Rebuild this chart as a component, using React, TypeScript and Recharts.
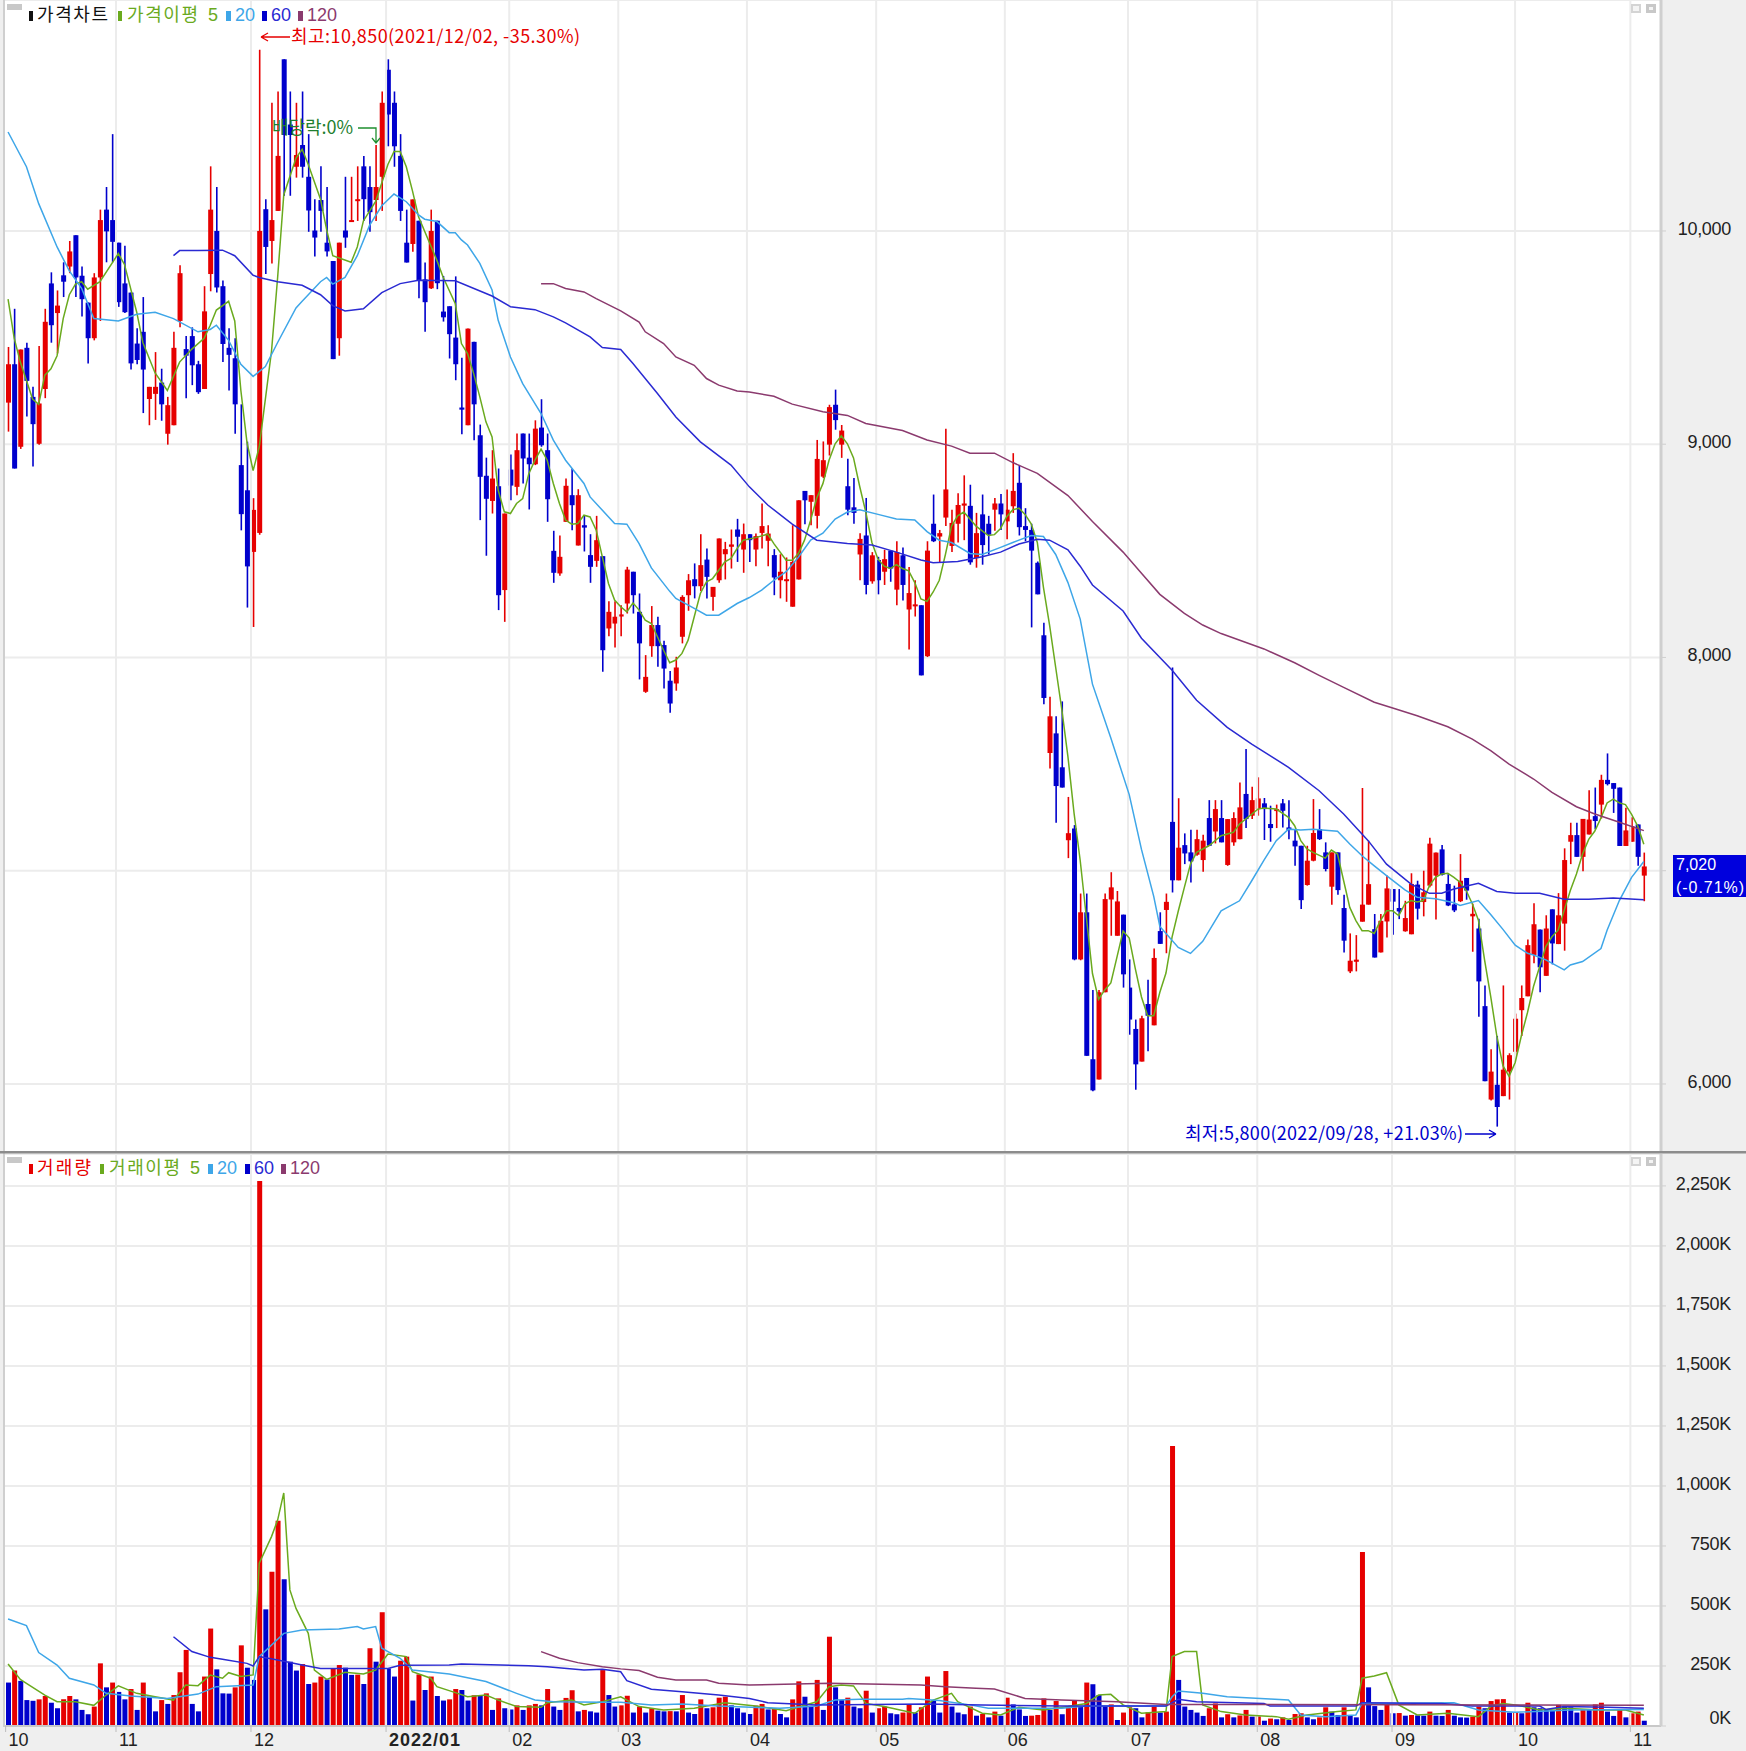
import React from "react";
import { ComposedChart, Bar, Line, XAxis, YAxis, CartesianGrid, ReferenceLine, Cell } from "recharts";

// [open, close, high, low] per trading day; close >= open is a rising (red) candle
const candles: number[][] = [
[9195,9375,9456,9059],[9375,8886,9635,8886],[8988,9444,9444,8978],[9452,9297,9476,9130],[9222,9094,9269,8896],[9002,9191,9460,8998],[9259,9574,9635,9216],[9754,9558,9806,9476],[9615,9650,9721,9426],[9792,9762,9853,9690],
[9833,9904,9953,9802],[9980,9782,9980,9690],[9790,9680,9833,9599],[9664,9497,9664,9379],[9497,9782,9802,9487],[9782,10051,10100,9578],[10100,9998,10206,9853],[10051,9949,10454,9853],[9945,9666,9945,9644],[9754,9619,9931,9615],
[9711,9379,9711,9350],[9472,9395,9544,9375],[9527,9350,9690,9146],[9212,9269,9269,9089],[9236,9269,9432,9114],[9289,9187,9354,9110],[9049,9183,9222,8998],[9089,9452,9527,9089],[9578,9802,9839,9548],[9446,9415,9507,9216],
[9507,9370,9548,9277],[9375,9244,9391,9236],[9259,9623,9741,9259],[9798,10100,10303,9717],[10000,9735,10206,9711],[9741,9470,9768,9385],[9452,9419,9544,9252],[9403,9187,9497,9049],[8902,8672,9187,8596],[8784,8427,9012,8234],
[8495,8692,8747,8143],[8584,10000,10850,8576],[10102,9925,10149,9798],[9953,10051,10601,9847],[10094,10352,10654,10094],[10805,10450,10805,10165],[10499,10450,10654,10165],[10301,10356,10601,10250],[10403,10301,10654,10250],[10254,10096,10454,9996],
[10002,9969,10149,9880],[10145,10094,10303,9996],[9945,9904,10206,9880],[9859,9399,9859,9399],[9497,9945,9945,9415],[10002,9969,10254,9921],[10047,10051,10254,10047],[10145,10149,10303,10047],[10303,10149,10352,10047],[10206,10088,10303,9996],
[10145,10206,10403,10047],[10254,10601,10654,10094],[10756,10546,10805,10397],[10601,10397,10654,10301],[10352,10094,10454,10047],[9945,9852,10100,9852],[9939,10148,10148,9903],[10048,9767,10048,9684],[9773,9666,9852,9527],[9731,10000,10100,9728],
[10048,9755,10048,9727],[9622,9595,9789,9575],[9647,9516,9647,9402],[9500,9375,9787,9300],[9172,9162,9406,9047],[9089,9542,9542,9089],[9480,9187,9480,9019],[9042,8847,9092,8644],[8852,8744,8937,8477],[8734,8839,8972,8675],
[8803,8292,8886,8222],[8316,8675,8675,8167],[8881,8806,8952,8737],[8800,8972,9050,8761],[9050,8933,9050,8816],[8937,8906,9050,8694],[8906,9073,9112,8902],[9078,8995,9211,8988],[8972,8742,9050,8636],[8500,8397,8594,8350],
[8394,8472,8572,8383],[8636,8805,8839,8636],[8761,8714,8886,8597],[8525,8761,8789,8525],[8620,8609,8667,8497],[8480,8425,8578,8350],[8453,8550,8664,8425],[8475,8034,8475,7933],[8136,8214,8264,8100],[8159,8191,8264,8047],
[8192,8202,8245,8100],[8253,8412,8425,8206],[8402,8292,8402,8206],[8214,8066,8300,7897],[7839,7909,8011,7834],[8053,8152,8241,8003],[8152,8053,8191,7956],[8058,7948,8078,7855],[7891,7784,7937,7741],[7878,7953,8003,7844],
[8097,8284,8292,8066],[8292,8362,8391,8219],[8367,8334,8441,8277],[8334,8433,8578,8312],[8459,8378,8511,8277],[8284,8331,8331,8219],[8362,8558,8558,8350],[8484,8508,8542,8366],[8519,8530,8600,8417],[8600,8566,8650,8448],
[8506,8578,8628,8397],[8578,8550,8578,8448],[8506,8569,8581,8428],[8584,8616,8722,8511],[8547,8581,8620,8428],[8480,8375,8508,8292],[8362,8402,8484,8277],[8359,8367,8469,8261],[8238,8448,8620,8238],[8366,8737,8737,8366],
[8781,8737,8781,8625],[8730,8761,8761,8620],[8664,8931,9020,8605],[8848,8925,9013,8841],[8998,9174,9185,8947],[9185,9113,9256,9068],[8998,9064,9090,8936],[8803,8693,8932,8667],[8704,8678,8841,8627],[8483,8556,8583,8362],
[8572,8340,8748,8296],[8357,8479,8494,8346],[8457,8362,8472,8296],[8402,8461,8505,8340],[8501,8417,8501,8355],[8318,8494,8545,8245],[8479,8340,8516,8267],[8225,8302,8424,8037],[8240,8249,8362,8192],[8245,7916,8245,7916],
[8006,8501,8545,8002],[8627,8545,8764,8541],[8567,8583,8598,8446],[8656,8788,9073,8616],[8523,8631,8693,8494],[8627,8715,8770,8539],[8712,8722,8854,8550],[8711,8446,8810,8435],[8466,8583,8678,8421],[8671,8527,8764,8435],
[8627,8576,8664,8483],[8693,8722,8748,8594],[8722,8671,8766,8598],[8638,8693,8788,8554],[8709,8781,8958,8678],[8819,8611,8903,8572],[8616,8598,8700,8545],[8598,8501,8627,8141],[8444,8296,8450,8296],[8104,7810,8163,7781],
[7552,7724,7816,7479],[7644,7397,7724,7225],[7485,7390,7794,7390],[7143,7176,7346,7059],[7198,6584,7214,6580],[6584,6805,6893,6580],[6805,6132,6893,6132],[6116,5970,6441,5966],[6021,6430,6441,6021],[6430,6867,6893,6430],
[6865,6922,6993,6695],[6695,6856,6905,6695],[6794,6514,6794,6452],[6452,6302,6584,6231],[6258,6092,6302,5973],[6105,6308,6320,6105],[6375,6320,6489,6154],[6275,6591,6635,6275],[6717,6657,6805,6657],[6816,6854,6893,6613],
[7229,6955,7953,6898],[6955,7108,7340,6955],[7120,7081,7175,7031],[7086,7044,7192,6945],[7075,7148,7192,7070],[7050,7141,7169,6995],[7247,7117,7331,7117],[7184,7289,7331,7128],[7247,7133,7331,7133],[7027,7242,7242,7023],
[7133,7247,7274,7117],[7148,7297,7414,7148],[7360,7242,7571,7200],[7258,7331,7394,7242],[7289,7339,7438,7258],[7316,7289,7341,7144],[7219,7200,7305,7136],[7281,7289,7310,7200],[7316,7281,7336,7203],[7203,7191,7331,7148],
[7141,7114,7195,7023],[7117,6862,7117,6820],[6933,7047,7117,6930],[7047,7177,7336,7044],[7195,7148,7289,7144],[7086,7008,7133,6997],[6925,7086,7086,6840],[7086,6909,7086,6887],[6825,6672,6887,6617],[6528,6578,6706,6520],
[6573,6583,6698,6528],[6761,6841,7388,6761],[6841,6937,7141,6841],[6726,6593,6797,6593],[6617,6765,6797,6617],[6762,6917,6977,6687],[6914,6855,6914,6700],[6825,6809,6914,6773],[6716,6778,6859,6714],[6702,6938,6988,6702],
[6935,6822,6953,6771],[6853,6899,7000,6786],[6930,7127,7155,6922],[6977,7085,7085,6771],[7100,6981,7121,6977],[6938,6837,6984,6834],[6842,6814,6930,6806],[6857,6953,7078,6853],[6966,6907,6966,6864],[6786,6798,6845,6620],
[6729,6481,6775,6315],[6365,6013,6462,6013],[5927,6058,6163,5923],[5996,5892,6225,5800],[5943,6067,6462,5943],[6058,6135,6144,5927],[6151,6306,6330,6129],[6346,6403,6462,6225],[6411,6651,6678,6411],[6605,6749,6848,6566],
[6724,6547,6724,6430],[6507,6729,6791,6507],[6819,6659,6819,6561],[6656,6791,6895,6656],[6752,7050,7105,6625],[7136,7167,7225,7031],[7167,7065,7225,7065],[7065,7243,7243,6997],[7170,7240,7377,7170],[7256,7233,7390,7194],
[7310,7426,7450,7245],[7426,7406,7550,7400],[7411,7384,7411,7271],[7390,7116,7390,7116],[7116,7189,7295,7116],[7136,7209,7251,7136],[7217,7065,7217,7023],[6977,7020,7085,6857],
];

// price moving averages, read as [day index, value]
const priceMa5: number[][] = [[0,9680],[1,9497],[2,9385],[4,9212],[5,9187],[6,9324],[7,9354],[8,9415],[9,9589],[10,9701],[11,9751],[12,9762],[13,9727],[15,9762],[18,9894],[19,9843],[21,9619],[22,9477],[24,9334],[26,9252],[28,9385],[30,9446],[32,9497],[33,9558],[34,9629],[36,9670],[37,9578],[38,9252],[39,9008],[40,8876],[41,8988],[43,9436],[44,9782],[45,10169],[47,10342],[48,10383],[49,10312],[51,10149],[52,10006],[53,9884],[56,9853],[57,9925],[58,10047],[60,10139],[62,10312],[63,10373],[64,10373],[65,10301],[66,10189],[67,10067],[70,9862],[71,9784],[73,9659],[74,9472],[75,9425],[76,9331],[77,9222],[78,9105],[79,9034],[80,8784],[81,8683],[82,8675],[83,8722],[84,8745],[85,8862],[86,8925],[87,8977],[88,8925],[89,8816],[90,8722],[91,8644],[92,8625],[93,8628],[94,8667],[95,8659],[96,8597],[97,8472],[98,8347],[99,8269],[100,8238],[101,8214],[102,8256],[103,8222],[104,8175],[105,8159],[106,8097],[107,8034],[108,7975],[109,7988],[110,8019],[111,8081],[112,8191],[113,8300],[114,8355],[115,8370],[116,8409],[117,8448],[118,8464],[119,8511],[120,8550],[122,8562],[124,8578],[125,8534],[127,8456],[128,8456],[129,8487],[130,8550],[131,8644],[132,8748],[133,8815],[134,8925],[135,9002],[136,9040],[137,9002],[138,8936],[139,8803],[140,8682],[141,8539],[142,8461],[143,8428],[144,8417],[145,8435],[146,8417],[147,8406],[148,8351],[149,8274],[150,8263],[151,8307],[152,8362],[153,8483],[154,8616],[155,8664],[156,8682],[157,8649],[158,8616],[159,8594],[160,8572],[161,8576],[162,8605],[163,8660],[164,8693],[165,8700],[166,8671],[167,8627],[168,8539],[169,8329],[170,8152],[171,7953],[172,7755],[173,7534],[174,7269],[175,7048],[176,6783],[177,6518],[178,6397],[179,6441],[180,6474],[181,6595],[182,6717],[183,6684],[184,6540],[185,6408],[186,6320],[187,6320],[188,6430],[189,6520],[190,6690],[191,6810],[192,6922],[193,7031],[194,7086],[196,7117],[198,7164],[200,7180],[201,7219],[202,7242],[204,7289],[205,7294],[207,7289],[209,7250],[210,7211],[211,7141],[212,7102],[213,7086],[215,7059],[216,7097],[217,7078],[218,6953],[219,6828],[220,6766],[221,6719],[222,6719],[223,6706],[224,6766],[225,6812],[226,6812],[227,6789],[228,6845],[229,6860],[230,6853],[231,6860],[232,6930],[233,6969],[234,6985],[235,6988],[236,6969],[237,6946],[238,6907],[239,6845],[240,6768],[241,6582],[242,6411],[243,6225],[244,6086],[245,6036],[246,6101],[247,6225],[248,6334],[249,6458],[250,6551],[251,6644],[252,6690],[253,6721],[254,6814],[255,6907],[256,6985],[257,7078],[258,7147],[259,7186],[260,7248],[261,7318],[262,7336],[263,7318],[264,7310],[265,7264],[266,7209],[267,7124]];
const priceMa20: number[][] = [[0,10464],[3,10301],[5,10128],[8,9925],[10,9813],[12,9731],[14,9589],[18,9578],[21,9609],[24,9619],[27,9589],[31,9527],[33,9538],[34,9558],[36,9487],[38,9375],[40,9318],[42,9364],[44,9477],[47,9639],[48,9670],[51,9762],[52,9782],[53,9751],[55,9782],[57,9884],[59,10026],[61,10118],[63,10173],[65,10137],[67,10075],[68,10055],[70,10044],[72,9992],[73,9992],[74,9958],[75,9934],[77,9848],[79,9723],[80,9581],[82,9409],[84,9284],[87,9144],[89,9019],[91,8925],[94,8816],[95,8753],[99,8628],[101,8625],[103,8534],[105,8420],[108,8310],[109,8277],[112,8230],[114,8198],[116,8198],[119,8253],[121,8281],[123,8316],[125,8362],[127,8402],[129,8470],[131,8550],[133,8583],[135,8649],[137,8682],[139,8693],[142,8671],[145,8649],[148,8645],[150,8590],[152,8550],[154,8539],[157,8488],[159,8483],[162,8516],[164,8539],[167,8572],[169,8567],[171,8483],[173,8351],[175,8180],[177,7875],[180,7622],[183,7357],[185,7100],[187,6880],[188,6739],[191,6640],[193,6612],[195,6669],[198,6812],[201,6859],[203,6953],[205,7050],[207,7141],[209,7195],[211,7191],[213,7195],[217,7185],[219,7125],[221,7070],[223,7023],[225,6977],[228,6910],[230,6876],[233,6868],[236,6850],[237,6837],[240,6860],[242,6795],[244,6725],[246,6651],[248,6613],[249,6605],[251,6582],[254,6535],[255,6558],[257,6574],[260,6635],[261,6721],[263,6860],[265,6969],[267,7043]];
const priceMa60: number[][] = [[27,9884],[28,9908],[31,9908],[35,9910],[37,9884],[40,9792],[41,9782],[44,9762],[48,9745],[51,9701],[53,9650],[55,9625],[58,9635],[61,9711],[64,9753],[67,9769],[73,9766],[79,9695],[82,9645],[86,9631],[89,9597],[91,9569],[95,9503],[97,9453],[100,9444],[102,9378],[106,9238],[109,9128],[113,9011],[118,8902],[121,8800],[124,8715],[128,8625],[132,8550],[137,8534],[141,8527],[145,8494],[149,8457],[151,8444],[155,8450],[159,8472],[162,8494],[165,8532],[168,8554],[170,8550],[173,8505],[175,8428],[177,8340],[182,8218],[185,8090],[190,7940],[194,7799],[199,7672],[203,7594],[209,7485],[214,7375],[218,7266],[222,7141],[225,7031],[229,6937],[232,6894],[234,6894],[236,6914],[240,6941],[243,6903],[246,6894],[250,6894],[254,6866],[258,6866],[262,6872],[267,6864]];
const priceMa120: number[][] = [[87,9753],[89,9753],[91,9730],[94,9714],[96,9683],[100,9625],[103,9573],[104,9527],[107,9472],[109,9409],[112,9370],[114,9308],[116,9277],[119,9250],[121,9245],[125,9225],[128,9188],[133,9152],[137,9135],[140,9097],[146,9064],[150,9020],[154,8991],[157,8958],[161,8958],[164,8914],[168,8863],[173,8759],[177,8638],[182,8494],[185,8395],[188,8296],[192,8207],[195,8152],[198,8112],[205,8040],[210,7975],[214,7916],[218,7860],[223,7790],[226,7763],[230,7727],[235,7675],[239,7617],[242,7563],[245,7500],[249,7430],[252,7367],[256,7300],[259,7266],[263,7227],[267,7188]];

// daily volume in thousands; larger than the day before is drawn red
const volumes: number[] = [
181,231,188,108,105,111,125,97,74,111,125,111,67,49,81,261,161,181,142,111,
154,67,181,122,61,108,92,129,224,317,92,61,206,406,236,136,135,161,336,243,
192,2270,486,643,855,611,268,231,258,175,181,206,194,240,254,243,213,214,175,324,
268,474,240,206,272,289,106,215,150,206,125,106,111,154,150,106,128,127,136,67,
115,74,69,86,67,86,92,86,154,81,67,117,149,61,67,61,56,233,129,81,
86,126,56,81,56,74,64,61,62,61,129,56,50,111,74,78,118,122,86,74,
56,50,85,92,69,74,50,36,111,186,122,83,192,67,372,161,108,118,81,74,
147,56,74,81,53,49,56,88,56,78,206,106,56,229,81,56,49,81,43,50,
36,60,43,118,90,69,42,43,46,115,67,104,49,81,108,81,181,174,129,83,
90,25,56,78,74,36,57,81,56,60,1167,192,81,67,56,42,74,94,36,49,
36,44,67,39,40,22,31,28,36,25,50,53,36,28,36,78,60,46,78,43,
36,725,161,83,67,88,53,54,43,46,44,43,60,43,42,67,43,36,35,39,
81,74,104,111,112,56,57,53,97,78,74,67,66,88,81,78,56,69,68,90,
97,60,42,67,36,53,60,22,
];
const volMa5: number[][] = [[0,258],[2,194],[3,178],[6,129],[8,101],[11,101],[14,86],[16,129],[18,167],[21,136],[24,122],[27,108],[29,171],[31,168],[33,212],[35,199],[36,222],[38,206],[40,213],[41,678],[43,789],[44,858],[45,971],[46,567],[47,490],[49,386],[50,233],[52,194],[55,224],[58,217],[60,233],[62,300],[65,289],[66,226],[69,199],[70,164],[73,139],[75,122],[78,129],[80,108],[83,81],[87,78],[88,97],[92,108],[94,88],[97,101],[100,122],[103,81],[107,67],[112,74],[117,97],[122,83],[127,64],[132,101],[134,164],[136,171],[138,167],[140,94],[143,81],[148,53],[151,108],[154,136],[155,101],[159,53],[162,46],[165,78],[169,67],[173,81],[176,94],[178,129],[180,132],[182,88],[185,53],[189,60],[190,289],[192,310],[194,310],[195,88],[198,60],[202,46],[207,39],[209,28],[212,46],[217,60],[220,67],[221,199],[223,208],[225,222],[227,88],[230,46],[235,53],[240,39],[242,81],[244,94],[246,88],[250,67],[254,74],[260,67],[264,67],[267,46]];
const volMa20: number[][] = [[0,446],[3,418],[5,306],[8,254],[10,199],[14,171],[16,136],[20,125],[26,115],[31,133],[34,164],[40,171],[41,289],[45,386],[48,400],[54,404],[57,414],[58,404],[60,414],[61,324],[64,282],[66,233],[72,217],[78,185],[83,136],[86,108],[89,101],[97,99],[100,99],[105,88],[110,92],[116,83],[126,74],[132,83],[135,108],[139,111],[146,111],[147,115],[152,106],[157,88],[160,74],[172,74],[176,83],[189,83],[190,122],[191,146],[195,136],[199,122],[206,112],[209,108],[211,46],[215,39],[220,46],[221,94],[236,97],[240,67],[246,57],[255,67],[267,69]];
const volMa60: number[][] = [[27,372],[30,310],[33,286],[35,278],[39,261],[40,250],[41,289],[44,275],[48,254],[51,240],[62,240],[64,253],[72,254],[74,258],[85,251],[88,247],[94,233],[97,236],[100,226],[101,189],[105,153],[110,143],[116,129],[121,115],[124,97],[132,88],[150,92],[159,88],[172,83],[189,83],[191,111],[194,101],[205,94],[206,83],[220,83],[221,97],[234,94],[239,83],[250,83],[251,69],[254,81],[261,78],[267,74]];
const volMa120: number[][] = [[87,310],[90,282],[93,264],[97,247],[100,238],[103,231],[106,203],[109,192],[114,192],[116,178],[121,171],[134,178],[149,171],[153,164],[158,157],[161,154],[166,115],[172,108],[181,101],[189,90],[267,86]];

const priceTicks = [6000, 7000, 8000, 9000, 10000];
const volumeTicks = [0, 250, 500, 750, 1000, 1250, 1500, 1750, 2000, 2250];
const monthPositions = [17.62, 39.65, 61.7, 81.8, 99.6, 120.6, 141.7, 162.7, 182.8, 203.9, 225.9, 245.98, 264.8];
const monthTicks = [-0.4, ...monthPositions];
const monthLabels = ["10", "11", "12", "2022/01", "02", "03", "04", "05", "06", "07", "08", "09", "10", "11"];

const RED = "#e60000";
const BLUE = "#0000cc";
const GREEN = "#6aaa1e";
const SKY = "#3ea6e8";
const INDIGO = "#2a2ad2";
const MAROON = "#8b3a6e";
const GRID = "#ececec";
const LATIN = "'Liberation Sans', Arial, sans-serif";
const KOREAN = "'Noto Sans CJK KR', 'Liberation Sans', sans-serif";

const lookup = (pts: number[][]) => {
  const m: Record<number, number> = {};
  pts.forEach(([i, v]) => (m[i] = v));
  return m;
};
const pm5 = lookup(priceMa5), pm20 = lookup(priceMa20), pm60 = lookup(priceMa60), pm120 = lookup(priceMa120);
const vm5 = lookup(volMa5), vm20 = lookup(volMa20), vm60 = lookup(volMa60), vm120 = lookup(volMa120);

const priceRows = candles.map(([o, c, h, l], i) => ({
  i, o, c, h, l, range: [l, h],
  ma5: pm5[i] ?? null, ma20: pm20[i] ?? null, ma60: pm60[i] ?? null, ma120: pm120[i] ?? null,
}));
const volumeRows = volumes.map((v, i) => ({
  i, v, up: i === 0 ? false : v >= volumes[i - 1],
  ma5: vm5[i] ?? null, ma20: vm20[i] ?? null, ma60: vm60[i] ?? null, ma120: vm120[i] ?? null,
}));

const Candle = (props: any) => {
  const { x, y, width, height, payload } = props;
  const { o, c, h, l } = payload;
  const color = c >= o ? RED : BLUE;
  const unit = height / Math.max(h - l, 1);
  const top = y + (h - Math.max(o, c)) * unit;
  const bodyH = Math.max(Math.abs(o - c) * unit, 2);
  const mid = x + width / 2;
  return (
    <g>
      <line x1={mid} x2={mid} y1={y} y2={y + height} stroke={color} strokeWidth={1.6} />
      <rect x={x} y={top} width={width} height={bodyH} fill={color} />
    </g>
  );
};

const PriceTick = ({ x, y, payload }: any) => (
  <text x={x + 63} y={y + 4} textAnchor="end" fontSize={18} letterSpacing={-0.3} fontFamily={LATIN} fill="#222">
    {payload.value.toLocaleString("en-US")}
  </text>
);
const VolumeTick = ({ x, y, payload }: any) => (
  <text x={x + 63} y={payload.value === 0 ? y - 2 : y + 4} textAnchor="end" fontSize={18} letterSpacing={-0.3} fontFamily={LATIN} fill="#222">
    {payload.value.toLocaleString("en-US")}K
  </text>
);
const MonthTick = ({ x, y, payload, index }: any) => {
  const label = monthLabels[monthTicks.indexOf(payload.value)] ?? monthLabels[index];
  const bold = label.length > 2;
  return (
    <text x={x + 3} y={y + 12} textAnchor="start" fontSize={18} fontFamily={LATIN} fontWeight={bold ? 700 : 400} fill="#222" textLength={bold ? 71 : undefined}>
      {label}
    </text>
  );
};

const maLine = (key: string, color: string) => (
  <Line key={key} dataKey={key} stroke={color} strokeWidth={1.5} dot={false} connectNulls isAnimationActive={false} legendType="none" />
);

const Legend = ({ y, name, nameLength, nameColor, swatch, avgName, xs }: any) => (
  <g fontSize={18} dominantBaseline="middle">
    <rect x={7} y={y - 12} width={15} height={6} fill="#c8c8c8" />
    <rect x={29} y={y - 5} width={4} height={10} fill={swatch} />
    <text x={37} y={y} fill={nameColor} fontFamily={KOREAN} textLength={nameLength}>{name}</text>
    <rect x={xs[0]} y={y - 5} width={4} height={10} fill={GREEN} />
    <text x={xs[0] + 9} y={y} fill={GREEN} fontFamily={KOREAN} textLength={71}>{avgName}</text>
    <text x={xs[1]} y={y} fill={GREEN} fontFamily={LATIN}>5</text>
    <rect x={xs[2]} y={y - 5} width={5} height={10} fill={SKY} />
    <text x={xs[2] + 9} y={y} fill={SKY} fontFamily={LATIN}>20</text>
    <rect x={xs[3]} y={y - 5} width={5} height={10} fill={BLUE} />
    <text x={xs[3] + 9} y={y} fill={INDIGO} fontFamily={LATIN}>60</text>
    <rect x={xs[4]} y={y - 5} width={5} height={10} fill={MAROON} />
    <text x={xs[4] + 9} y={y} fill={MAROON} fontFamily={LATIN}>120</text>
  </g>
);

const WinIcons = ({ y }: { y: number }) => (
  <g>
    <rect x={1631} y={y} width={10} height={9} fill="#d4d4d4" />
    <rect x={1633} y={y + 2} width={6} height={5} fill="#f4f4f4" />
    <rect x={1646} y={y} width={10} height={9} fill="#c8c8c8" />
    <rect x={1649} y={y + 3} width={4} height={3} fill="#f4f4f4" />
  </g>
);

export default function App() {
  return (
    <div style={{ position: "absolute", left: 0, top: 0, width: 1746, height: 1751, background: "#efefef", overflow: "hidden" }}>
      <div style={{ position: "absolute", left: 0, top: 0 }}>
        <ComposedChart width={1746} height={1152} data={priceRows} margin={{ top: 0, right: 0, bottom: 0, left: 5 }} barSize={5}>
          <CartesianGrid fill="#ffffff" stroke={GRID} strokeWidth={2} vertical={false} />
          <XAxis type="number" dataKey="i" domain={[-0.5, 269.8]} hide allowDataOverflow ticks={monthTicks} />
          <YAxis orientation="right" width={85} domain={[5681, 11083]} ticks={priceTicks} allowDataOverflow tick={<PriceTick />} tickLine={{ stroke: "#cfcfcf" }} tickSize={5} axisLine={{ stroke: "#cfcfcf", strokeWidth: 3 }} />
          {monthPositions.map((m) => (
            <ReferenceLine key={m} x={m} stroke={GRID} strokeWidth={2} />
          ))}
          <Bar dataKey="range" shape={<Candle />} isAnimationActive={false} legendType="none" />
          {maLine("ma5", GREEN)}
          {maLine("ma20", SKY)}
          {maLine("ma60", INDIGO)}
          {maLine("ma120", MAROON)}
        </ComposedChart>
      </div>
      <div style={{ position: "absolute", left: 0, top: 1154 }}>
        <ComposedChart width={1746} height={597} data={volumeRows} margin={{ top: 0, right: 0, bottom: 0, left: 5 }} barSize={5}>
          <CartesianGrid fill="#ffffff" stroke={GRID} strokeWidth={2} vertical={false} />
          <XAxis type="number" dataKey="i" domain={[-0.5, 269.8]} allowDataOverflow ticks={monthTicks} height={25} interval={0} tick={<MonthTick />} tickLine={{ stroke: "#bdbdbd" }} tickSize={6} axisLine={{ stroke: "#c8c8c8", strokeWidth: 2 }} />
          <YAxis orientation="right" width={85} domain={[0, 2383]} ticks={volumeTicks} allowDataOverflow tick={<VolumeTick />} tickLine={{ stroke: "#cfcfcf" }} tickSize={5} axisLine={{ stroke: "#cfcfcf", strokeWidth: 3 }} />
          {monthPositions.map((m) => (
            <ReferenceLine key={m} x={m} stroke={GRID} strokeWidth={2} />
          ))}
          <Bar dataKey="v" isAnimationActive={false} legendType="none">
            {volumeRows.map((r) => (
              <Cell key={r.i} fill={r.up ? RED : BLUE} />
            ))}
          </Bar>
          {maLine("ma5", GREEN)}
          {maLine("ma20", SKY)}
          {maLine("ma60", INDIGO)}
          {maLine("ma120", MAROON)}
        </ComposedChart>
      </div>
      <svg width={1746} height={1751} style={{ position: "absolute", left: 0, top: 0, pointerEvents: "none" }}>
        <rect x={3} y={0} width={2} height={1727} fill="#cfcfcf" />
        <rect x={0} y={1151} width={1746} height={2.5} fill="#8c8c8c" />
        <Legend y={16} name="가격차트" nameLength={71} nameColor="#111" swatch="#111" avgName="가격이평" xs={[118, 208, 226, 262, 298]} />
        <Legend y={1169} name="거래량" nameLength={54} nameColor={RED} swatch={RED} avgName="거래이평" xs={[100, 190, 208, 245, 281]} />
        <WinIcons y={4} />
        <WinIcons y={1157} />
        <g stroke={RED} strokeWidth={1.3} fill="none">
          <path d="M261 37 H290 M261 37 l7 -4 M261 37 l7 4" />
        </g>
        <text x={291} y={43} fontSize={18} fill={RED} fontFamily={KOREAN} textLength={289}>최고:10,850(2021/12/02, -35.30%)</text>
        <text x={272} y={134} fontSize={18} fill="#1f7f2f" fontFamily={KOREAN} textLength={81}>배당락:0%</text>
        <g stroke="#1f8f2f" strokeWidth={1.3} fill="none">
          <path d="M358 128 H376 V142 M372 138 l4 5 l4 -5" />
        </g>
        <text x={1185} y={1140} fontSize={18} fill={BLUE} fontFamily={KOREAN} textLength={278}>최저:5,800(2022/09/28, +21.03%)</text>
        <g stroke={BLUE} strokeWidth={1.3} fill="none">
          <path d="M1465 1134 H1496 M1496 1134 l-7 -4 M1496 1134 l-7 4" />
        </g>
        <rect x={1673} y={855} width={73} height={42} fill="#0000dd" />
        <text x={1676} y={870} fontSize={16} fill="#fff" fontFamily={LATIN}>7,020</text>
        <text x={1676} y={893} fontSize={16} fill="#fff" fontFamily={LATIN} textLength={68}>(-0.71%)</text>
      </svg>
    </div>
  );
}
